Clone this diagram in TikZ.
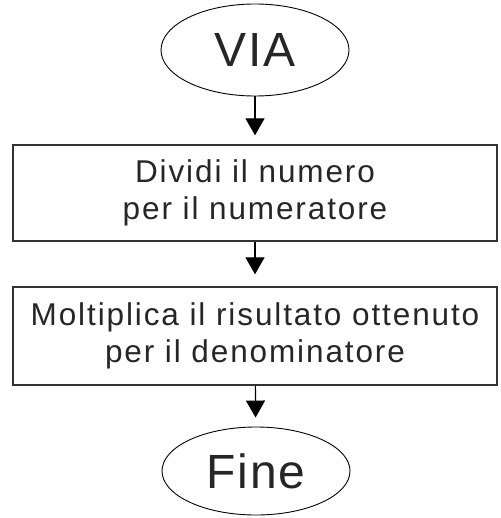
\documentclass[tikz,border=0pt]{standalone}
\usepackage{fontspec}
\setmainfont{Liberation Sans}
\newfontfamily\lsfont[LetterSpace=6]{Liberation Sans}
\newfontfamily\bigfont[LetterSpace=4]{Liberation Sans}
\usetikzlibrary{shapes.geometric,arrows.meta}
\begin{document}
\begin{tikzpicture}[x=1pt,y=-1pt,
  term/.style={ellipse,draw=black,line width=0.9pt,minimum width=188pt,minimum height=92pt,inner sep=0pt,font=\bigfont\fontsize{48}{52}\selectfont,text=black!85},
  procbox/.style={rectangle,draw=black!80,line width=1.3pt,minimum width=484pt,inner sep=0pt,align=center,font=\lsfont\fontsize{31.5}{37.5}\selectfont,text=black!85},
  flow/.style={draw=black,line width=1.2pt,-{Triangle[length=17pt,width=19pt]},shorten >=9pt}
]
\useasboundingbox (0,0) rectangle (500,518);
\node[term] (via) at (255,50) {VIA};
\node[procbox,minimum height=96pt] (div) at (255,193) {Dividi il numero\\per il numeratore};
\node[procbox,minimum height=98pt] (mul) at (255,336) {Moltiplica il risultato ottenuto\\per il denominatore};
\node[term,minimum height=88pt] (fine) at (256,471) {Fine};
\draw[flow] (via) -- (div);
\draw[flow,shorten >=12pt] (div) -- (mul);
\draw[flow] (mul) -- (fine);
\end{tikzpicture}
\end{document}
